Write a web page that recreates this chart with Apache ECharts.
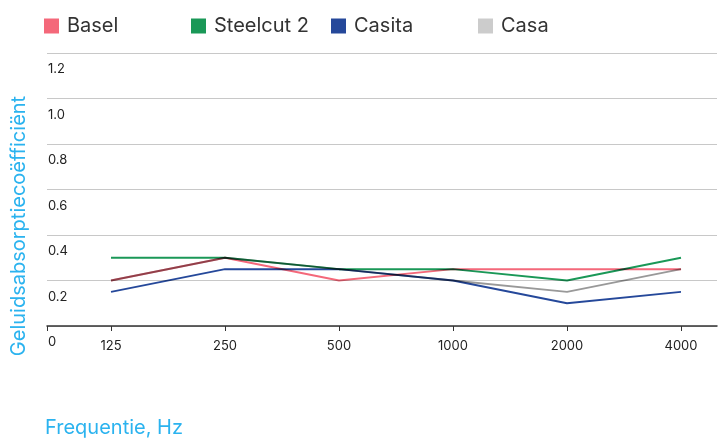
<!DOCTYPE html>
<html>
<head>
<meta charset="utf-8">
<script src="https://cdn.jsdelivr.net/npm/echarts@6/dist/echarts.min.js"></script>
<style>
  html, body { margin: 0; padding: 0; background: #fff; }
  #absorption-chart { width: 718px; height: 439px; }
</style>
</head>
<body>
<div id="absorption-chart"></div>
<script>
var frequencies = ['125', '250', '500', '1000', '2000', '4000'];
var basel = [0.2, 0.3, 0.2, 0.25, 0.25, 0.25];
var steelcut2 = [0.3, 0.3, 0.25, 0.25, 0.2, 0.3];
var casita = [0.15, 0.25, 0.25, 0.2, 0.1, 0.15];
var casa = [0.2, 0.3, 0.25, 0.2, 0.15, 0.25];

var font = 'Inter, "Noto Sans", sans-serif';
var blue_text = '#2bb3ef';

// x positions are band indices; the axis is a bit wider than the data on both sides
var x_min = -64 / 114;
var x_max = 5 + 36 / 114;

function to_points(values) {
  return values.map(function (v, i) {
    return [i, v];
  });
}

function make_series(name, values, line_color, icon_color) {
  return {
    name: name,
    type: 'line',
    data: to_points(values),
    symbol: 'none',
    blendMode: 'multiply',
    lineStyle: { color: line_color, width: 2 },
    itemStyle: { color: icon_color || line_color }
  };
}

function make_legend(name, left) {
  return {
    data: [name],
    left: left,
    top: 16,
    icon: 'rect',
    itemWidth: 15,
    itemHeight: 15,
    padding: 0,
    textStyle: { fontFamily: font, fontSize: 20, color: '#333', padding: [0, 0, 0, 3] }
  };
}

function draw_absorption_chart() {
  var chart = echarts.init(document.getElementById('absorption-chart'));
  var ticks = frequencies.map(function (d, i) { return i; });

  var option = {
    animation: false,
    legend: [
      make_legend('Basel', 44),
      make_legend('Steelcut 2', 191),
      make_legend('Casita', 331),
      make_legend('Casa', 478)
    ],
    grid: {
      left: 47,
      right: 1,
      top: 53,
      bottom: 113,
      containLabel: false
    },
    xAxis: {
      type: 'value',
      min: x_min,
      max: x_max,
      splitLine: { show: false },
      axisLine: { lineStyle: { color: '#333', width: 1.5 } },
      axisTick: {
        customValues: [x_min].concat(ticks),
        length: 5,
        lineStyle: { color: '#333' }
      },
      axisLabel: {
        customValues: ticks,
        margin: 14,
        fontFamily: font,
        fontSize: 13,
        color: '#222',
        formatter: function (v) {
          return frequencies[Math.round(v)];
        }
      }
    },
    yAxis: {
      type: 'value',
      min: 0,
      max: 1.2,
      interval: 0.2,
      axisLine: { show: false },
      axisTick: { show: false },
      splitLine: { lineStyle: { color: '#c8c8c8', width: 1 } },
      axisLabel: {
        inside: true,
        margin: 1,
        align: 'left',
        verticalAlign: 'top',
        lineHeight: 13,
        padding: [10, 0, 0, 0],
        fontFamily: font,
        fontSize: 13,
        color: '#222',
        formatter: function (v) {
          return v === 0 ? '0' : v.toFixed(1);
        }
      }
    },
    graphic: [
      {
        type: 'text',
        x: 19,
        y: 226,
        rotation: Math.PI / 2,
        style: {
          text: 'Geluidsabsorptiecoëfficiënt',
          fill: blue_text,
          font: '20px ' + font,
          textAlign: 'center',
          textVerticalAlign: 'middle'
        }
      },
      {
        type: 'text',
        x: 45,
        y: 418,
        style: {
          text: 'Frequentie, Hz',
          fill: blue_text,
          font: '20px ' + font,
          textAlign: 'left',
          textVerticalAlign: 'top'
        }
      }
    ],
    series: [
      make_series('Basel', basel, '#f4687a'),
      make_series('Steelcut 2', steelcut2, '#1a9857'),
      make_series('Casita', casita, '#25489a'),
      make_series('Casa', casa, '#999999', '#cccccc')
    ]
  };

  chart.setOption(option);
  window.addEventListener('resize', function () {
    chart.resize();
  });
}

draw_absorption_chart();
</script>
</body>
</html>
